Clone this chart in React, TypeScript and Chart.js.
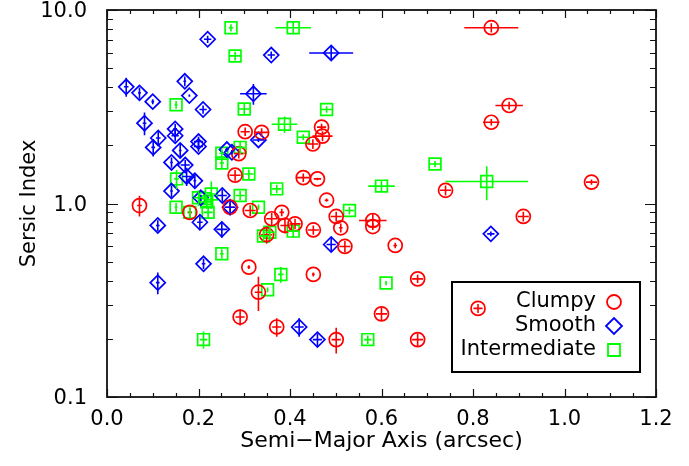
import { useEffect, useRef } from 'react';
import { Chart, registerables } from 'chart.js';

Chart.register(...registerables);

// Clumpy galaxies: semi-major axis (arcsec), Sersic index and their 1-sigma errors
const clumpyA = [0.840, 0.879, 0.840, 0.302, 0.338, 0.469, 0.471, 0.450, 0.288, 0.280, 0.429, 0.460, 0.740, 1.059, 0.910, 0.480, 0.501, 0.581, 0.581, 0.511, 0.451, 0.520, 0.630, 0.071, 0.181, 0.269, 0.313, 0.360, 0.382, 0.389, 0.411, 0.349, 0.310, 0.451, 0.331, 0.291, 0.371, 0.501, 0.679, 0.600, 0.679, 0.811];
const clumpyN = [8.10, 3.21, 2.63, 2.35, 2.33, 2.48, 2.23, 2.03, 1.81, 1.40, 1.36, 1.34, 1.17, 1.29, 0.857, 1.04, 0.857, 0.817, 0.76, 0.749, 0.73, 0.60, 0.607, 0.976, 0.90, 0.957, 0.92, 0.834, 0.90, 0.77, 0.785, 0.69, 0.469, 0.43, 0.348, 0.259, 0.23, 0.198, 0.408, 0.269, 0.198, 0.287];
const clumpyAErr = [0.059, 0.030, 0.018, 0.010, 0.016, 0.010, 0.022, 0.012, 0.010, 0.012, 0.014, 0.008, 0.012, 0.012, 0.012, 0.004, 0.012, 0.030, 0.010, 0.004, 0.012, 0.012, 0.004, 0.005, 0.005, 0.010, 0.012, 0.012, 0.005, 0.010, 0.012, 0.012, 0.003, 0.003, 0.008, 0.010, 0.010, 0.010, 0.012, 0.012, 0.012, 0.010];
const clumpyNErr = [0.45, 0.15, 0.10, 0.12, 0.12, 0.10, 0.13, 0.12, 0.10, 0.09, 0.07, 0.02, 0.07, 0.04, 0.05, 0.02, 0.05, 0.07, 0.03, 0.04, 0.04, 0.04, 0.02, 0.12, 0.05, 0.05, 0.06, 0.06, 0.04, 0.07, 0.05, 0.07, 0.01, 0.01, 0.07, 0.025, 0.025, 0.03, 0.02, 0.02, 0.015, 0.015];

// Smooth galaxies
const smoothA = [0.220, 0.359, 0.490, 0.042, 0.071, 0.100, 0.170, 0.180, 0.210, 0.320, 0.082, 0.112, 0.101, 0.149, 0.149, 0.200, 0.200, 0.160, 0.331, 0.141, 0.171, 0.174, 0.192, 0.141, 0.273, 0.262, 0.252, 0.269, 0.205, 0.203, 0.251, 0.111, 0.211, 0.111, 0.490, 0.839, 0.420, 0.460];
const smoothN = [7.06, 5.85, 6.00, 4.01, 3.73, 3.36, 4.28, 3.61, 3.06, 3.69, 2.60, 2.18, 1.95, 2.43, 2.24, 2.09, 1.97, 1.88, 2.13, 1.63, 1.58, 1.38, 1.31, 1.16, 1.84, 1.90, 1.10, 0.957, 1.07, 0.80, 0.735, 0.77, 0.488, 0.39, 0.614, 0.697, 0.23, 0.198];
const smoothAErr = [0.008, 0.008, 0.048, 0.005, 0.003, 0.003, 0.003, 0.002, 0.008, 0.029, 0.004, 0.005, 0.004, 0.004, 0.008, 0.010, 0.010, 0.003, 0.012, 0.003, 0.010, 0.010, 0.003, 0.003, 0.003, 0.004, 0.010, 0.012, 0.004, 0.006, 0.012, 0.004, 0.004, 0.004, 0.010, 0.008, 0.010, 0.010];
const smoothNErr = [0.30, 0.25, 0.50, 0.45, 0.25, 0.10, 0.25, 0.05, 0.15, 0.45, 0.35, 0.20, 0.20, 0.15, 0.15, 0.12, 0.12, 0.15, 0.05, 0.10, 0.10, 0.15, 0.10, 0.08, 0.05, 0.05, 0.08, 0.08, 0.04, 0.06, 0.07, 0.05, 0.03, 0.05, 0.05, 0.02, 0.025, 0.015];

// Intermediate galaxies
const interA = [0.271, 0.407, 0.280, 0.151, 0.300, 0.480, 0.388, 0.429, 0.251, 0.251, 0.291, 0.152, 0.310, 0.371, 0.717, 0.600, 0.830, 0.200, 0.228, 0.218, 0.221, 0.291, 0.151, 0.181, 0.331, 0.530, 0.342, 0.356, 0.407, 0.251, 0.380, 0.351, 0.211, 0.610, 0.570, 0.215];
const interN = [8.10, 8.10, 5.79, 3.24, 3.08, 3.06, 2.57, 2.20, 1.82, 1.62, 1.95, 1.34, 1.42, 1.19, 1.60, 1.23, 1.30, 1.07, 1.12, 1.02, 0.90, 1.10, 0.957, 0.90, 0.957, 0.92, 0.68, 0.71, 0.72, 0.55, 0.43, 0.358, 0.198, 0.388, 0.198, 1.06];
const interAErr = [0.005, 0.039, 0.012, 0.003, 0.012, 0.012, 0.028, 0.012, 0.005, 0.005, 0.010, 0.005, 0.010, 0.010, 0.012, 0.029, 0.090, 0.010, 0.010, 0.010, 0.010, 0.010, 0.003, 0.003, 0.002, 0.010, 0.010, 0.010, 0.012, 0.004, 0.006, 0.002, 0.008, 0.002, 0.008, 0.008];
const interNErr = [0.35, 0.60, 0.30, 0.15, 0.20, 0.12, 0.25, 0.08, 0.10, 0.10, 0.15, 0.15, 0.08, 0.06, 0.06, 0.08, 0.26, 0.10, 0.18, 0.08, 0.06, 0.06, 0.05, 0.05, 0.03, 0.04, 0.04, 0.05, 0.05, 0.03, 0.04, 0.01, 0.02, 0.01, 0.01, 0.06];

// Axis ticks
const xMin = 0;
const xMax = 1.2;
const xMajorStep = 0.2;
const xMinorStep = 0.05;
const yTickValues = [0.1, 1, 10];
const yTickLabels = ['0.1', '1.0', '10.0'];
const yMinorMultipliers = [2, 3, 4, 5, 6, 7, 8, 9];

const seriesNames = ['Clumpy', 'Smooth', 'Intermediate'];
const seriesColors = ['#ff0000', '#0000ff', '#00ff00'];

const FONT = 'DejaVu Sans';

function toPoints(a: number[], n: number[], aErr: number[], nErr: number[]) {
  return a.map((v, i) => ({ x: v, y: n[i], xErr: aErr[i], yErr: nErr[i] }));
}

// Horizontal and vertical error bars through each marker
const errorBarPlugin = {
  id: 'errorBars',
  afterDatasetsDraw(chart: any) {
    const { ctx, chartArea: a, scales } = chart;
    const xs = scales.x;
    const ys = scales.y;
    ctx.save();
    ctx.beginPath();
    ctx.rect(a.left, a.top, a.width, a.height);
    ctx.clip();
    chart.data.datasets.forEach((ds: any) => {
      ctx.strokeStyle = ds.borderColor;
      ctx.lineWidth = 1.6;
      ds.data.forEach((p: any) => {
        const px = xs.getPixelForValue(p.x);
        const py = ys.getPixelForValue(p.y);
        const x0 = xs.getPixelForValue(p.x - p.xErr);
        const x1 = xs.getPixelForValue(p.x + p.xErr);
        const y0 = ys.getPixelForValue(Math.max(p.y - p.yErr, 1e-3));
        const y1 = ys.getPixelForValue(p.y + p.yErr);
        ctx.beginPath();
        ctx.moveTo(x0, py);
        ctx.lineTo(x1, py);
        ctx.moveTo(px, y0);
        ctx.lineTo(px, y1);
        ctx.stroke();
      });
    });
    ctx.restore();
  },
};

// Box frame with inward ticks on all four sides
const framePlugin = {
  id: 'frame',
  afterDraw(chart: any) {
    const { ctx, chartArea: a, scales } = chart;
    const xs = scales.x;
    const ys = scales.y;
    ctx.save();
    ctx.strokeStyle = '#111';
    ctx.lineWidth = 1.2;
    ctx.beginPath();
    const nMinor = Math.round((xMax - xMin) / xMinorStep);
    const perMajor = Math.round(xMajorStep / xMinorStep);
    for (let i = 0; i <= nMinor; i++) {
      const v = xMin + i * xMinorStep;
      const px = Math.round(xs.getPixelForValue(v)) + 0.5;
      const len = i % perMajor === 0 ? 8 : 4;
      ctx.moveTo(px, a.bottom);
      ctx.lineTo(px, a.bottom - len);
      ctx.moveTo(px, a.top);
      ctx.lineTo(px, a.top + len);
    }
    yTickValues.forEach((dec, k) => {
      const py = Math.round(ys.getPixelForValue(dec)) + 0.5;
      ctx.moveTo(a.left, py);
      ctx.lineTo(a.left + 11, py);
      ctx.moveTo(a.right, py);
      ctx.lineTo(a.right - 11, py);
      if (k < yTickValues.length - 1) {
        yMinorMultipliers.forEach((m) => {
          const my = Math.round(ys.getPixelForValue(dec * m)) + 0.5;
          ctx.moveTo(a.left, my);
          ctx.lineTo(a.left + 6, my);
          ctx.moveTo(a.right, my);
          ctx.lineTo(a.right - 6, my);
        });
      }
    });
    ctx.stroke();
    ctx.lineWidth = 1.8;
    ctx.strokeStyle = '#111';
    ctx.strokeRect(a.left, a.top, a.width, a.height);
    ctx.restore();
  },
};

// Legend box in the lower right corner, labels right-aligned with their symbol after them
const legendPlugin = {
  id: 'cornerLegend',
  afterDraw(chart: any) {
    const { ctx, chartArea: a } = chart;
    const boxL = a.right - 204;
    const boxR = a.right - 16;
    const boxT = a.bottom - 115;
    const boxB = a.bottom - 25;
    const textR = a.right - 60;
    const symX = a.right - 42;
    const rows = [a.bottom - 95, a.bottom - 71, a.bottom - 47];
    ctx.save();
    ctx.lineWidth = 2;
    ctx.strokeStyle = '#000';
    ctx.strokeRect(boxL, boxT, boxR - boxL, boxB - boxT);
    ctx.font = `21px "${FONT}"`;
    ctx.fillStyle = '#000';
    ctx.textAlign = 'right';
    ctx.textBaseline = 'middle';
    seriesNames.forEach((name, i) => {
      const y = rows[i];
      ctx.fillText(name, textR, y);
      ctx.strokeStyle = seriesColors[i];
      ctx.lineWidth = 1.8;
      ctx.beginPath();
      if (i === 0) {
        ctx.arc(symX, y, 7, 0, Math.PI * 2);
      } else if (i === 1) {
        ctx.moveTo(symX - 8, y);
        ctx.lineTo(symX, y - 8);
        ctx.lineTo(symX + 8, y);
        ctx.lineTo(symX, y + 8);
        ctx.closePath();
      } else {
        ctx.rect(symX - 6, y - 6, 12, 12);
      }
      ctx.stroke();
    });
    ctx.restore();
  },
};

export default function App() {
  const canvasRef = useRef<HTMLCanvasElement | null>(null);

  useEffect(() => {
    const canvas = canvasRef.current;
    if (!canvas) return;
    const common = {
      backgroundColor: 'rgba(0,0,0,0)',
      borderWidth: 1.7,
      pointHoverRadius: 7,
      showLine: false,
    };
    const chart = new Chart(canvas, {
      type: 'scatter',
      data: {
        datasets: [
          {
            ...common,
            label: seriesNames[0],
            data: toPoints(clumpyA, clumpyN, clumpyAErr, clumpyNErr),
            borderColor: seriesColors[0],
            pointStyle: 'circle',
            pointRadius: 7,
          },
          {
            ...common,
            label: seriesNames[1],
            data: toPoints(smoothA, smoothN, smoothAErr, smoothNErr),
            borderColor: seriesColors[1],
            pointStyle: 'rectRot',
            pointRadius: 7.5,
          },
          {
            ...common,
            label: seriesNames[2],
            data: toPoints(interA, interN, interAErr, interNErr),
            borderColor: seriesColors[2],
            pointStyle: 'rect',
            pointRadius: 8.3,
          },
        ] as any,
      },
      options: {
        animation: false,
        responsive: false,
        maintainAspectRatio: false,
        layout: { padding: { top: 9.5, right: 33, left: 0, bottom: 0 } },
        plugins: {
          legend: { display: false },
          tooltip: { enabled: false },
        },
        scales: {
          x: {
            type: 'linear',
            min: xMin,
            max: xMax,
            grid: { display: false },
            border: { display: false },
            ticks: {
              stepSize: xMajorStep,
              color: '#000',
              padding: 2,
              font: { family: FONT, size: 21 },
              callback: (v: any) => Number(v).toFixed(1),
            },
            title: {
              display: true,
              text: 'Semi−Major Axis (arcsec)',
              color: '#000',
              font: { family: FONT, size: 22 },
              padding: { top: 0, bottom: 12 },
            },
            afterFit: (scale: any) => {
              scale.height = 69;
              scale.paddingLeft = 0;
              scale.paddingRight = 0;
            },
          },
          y: {
            type: 'logarithmic',
            min: 0.1,
            max: 10,
            grid: { display: false },
            border: { display: false },
            afterBuildTicks: (scale: any) => {
              scale.ticks = yTickValues.map((v) => ({ value: v }));
            },
            ticks: {
              color: '#000',
              padding: 12,
              labelOffset: 2,
              font: { family: FONT, size: 21 },
              callback: (_v: any, i: number) => yTickLabels[i],
            },
            title: {
              display: true,
              text: 'Sersic Index',
              color: '#000',
              font: { family: FONT, size: 21 },
              padding: { top: 17, bottom: 0 },
            },
            afterFit: (scale: any) => {
              scale.width = 107;
              scale.paddingTop = 0;
              scale.paddingBottom = 0;
            },
          },
        },
      } as any,
      plugins: [errorBarPlugin, framePlugin, legendPlugin],
    });
    return () => chart.destroy();
  }, []);

  return (
    <div style={{ position: 'fixed', left: 0, top: 0, width: 689, height: 466, background: '#fff' }}>
      <canvas ref={canvasRef} width={689} height={466} />
    </div>
  );
}
